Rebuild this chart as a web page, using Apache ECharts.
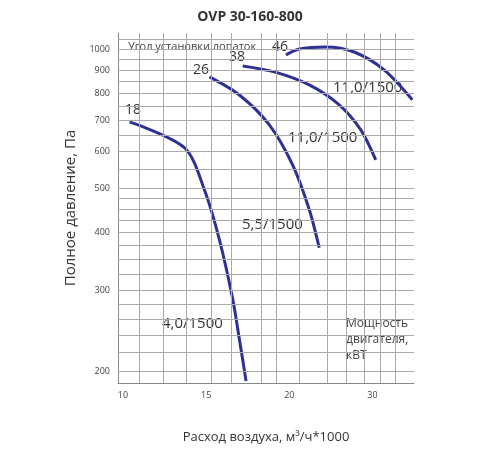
<!DOCTYPE html><html><head><meta charset="utf-8"><script src="https://cdn.jsdelivr.net/npm/echarts@6/dist/echarts.min.js"></script></head><body style="margin:0"><div id="c" style="width:500px;height:450px"></div><script>
const c18=[[10.4,695],[13.7,611],[14.9,495],[15.8,386],[16.6,287],[17.0,235],[17.4,191]];
const c26=[[15.2,870],[17.0,795],[18.8,685],[20.2,561],[21.2,449],[21.8,371]];
const c38=[[17.2,919],[19.1,892],[21.2,836],[23.0,757],[24.3,668],[25.2,575]];
const c46=[[19.8,971],[20.6,1000],[22.2,1010],[23.9,985],[25.7,901],[27.4,776]];
const yTicks=[200,300,400,500,600,700,800,900,1000];
const xTicks=[10,15,20,25];
const xTickText={10:'10',15:'15',20:'20',25:'30'};
const hGrid=[200,220,240,260,280,300,325,350,375,400,425,450,475,500,550,600,650,700,750,800,850,900,950,1000,1050];
const vGrid=[11.0,12.4,13.8,15.3,16.5,18.3,19.2,20.6,22.3,23.4,24.5,25.5,26.4];
const F='"Open Sans",sans-serif';
const ls={color:'#2e3192',width:3};
function ser(d){return {type:'line',data:d,smooth:0.3,symbol:'none',lineStyle:ls,z:3};}
const grid={type:'line',data:[],silent:true,z:1,markLine:{symbol:'none',label:{show:false},lineStyle:{color:'#aaa',width:1,type:'solid'},
 data:hGrid.map(v=>({yAxis:v})).concat(vGrid.map(v=>({xAxis:v})))}};
const ch=echarts.init(document.getElementById('c'));
ch.setOption({animation:false,
 title:{text:'OVP 30-160-800',left:'center',top:5,textStyle:{fontFamily:F,fontSize:14,fontWeight:'bold',color:'#333'}},
 grid:{left:118,right:86,top:33,bottom:67},
 xAxis:{type:'value',min:9.7,max:27.5,name:'Расход воздуха, м³/ч*1000',nameLocation:'middle',nameGap:48,
  nameTextStyle:{fontFamily:F,fontSize:13,color:'#333'},
  axisLine:{lineStyle:{color:'#888'}},axisTick:{show:false},splitLine:{show:false},
  axisLabel:{customValues:xTicks,formatter:v=>xTickText[v]||'',fontSize:9,color:'#444',fontFamily:F}},
 yAxis:{type:'log',min:189,max:1083,name:'Полное давление, Па',nameLocation:'middle',nameGap:32,
  nameTextStyle:{fontFamily:F,fontSize:15,color:'#333'},
  axisLine:{show:true,lineStyle:{color:'#888'}},axisTick:{show:false},splitLine:{show:false},
  axisLabel:{customValues:yTicks,formatter:v=>String(Math.round(v)),fontSize:9,color:'#444',fontFamily:F}},
 series:[grid,ser(c18),ser(c26),ser(c38),ser(c46)],
 graphic:[
  {type:'text',left:128,top:41,style:{text:'Угол установки лопаток',font:'11px '+F,fill:'#444'}},
  ...[['18',125,103],['26',193,63],['38',229,50],['46',272,40]].map(a=>({type:'text',left:a[1],top:a[2],style:{text:a[0],font:'14px '+F,fill:'#333'}})),
  ...[['11,0/1500',333,80],['11,0/1500',288,130],['5,5/1500',242,217],['4,0/1500',162,316]].map(a=>({type:'text',left:a[1],top:a[2],style:{text:a[0],font:'15px '+F,fill:'#333'}})),
  {type:'text',left:346,top:316,style:{text:'Мощность\nдвигателя,\nкВТ',font:'12px '+F,fill:'#444',lineHeight:16}}
 ]});
</script></body></html>
